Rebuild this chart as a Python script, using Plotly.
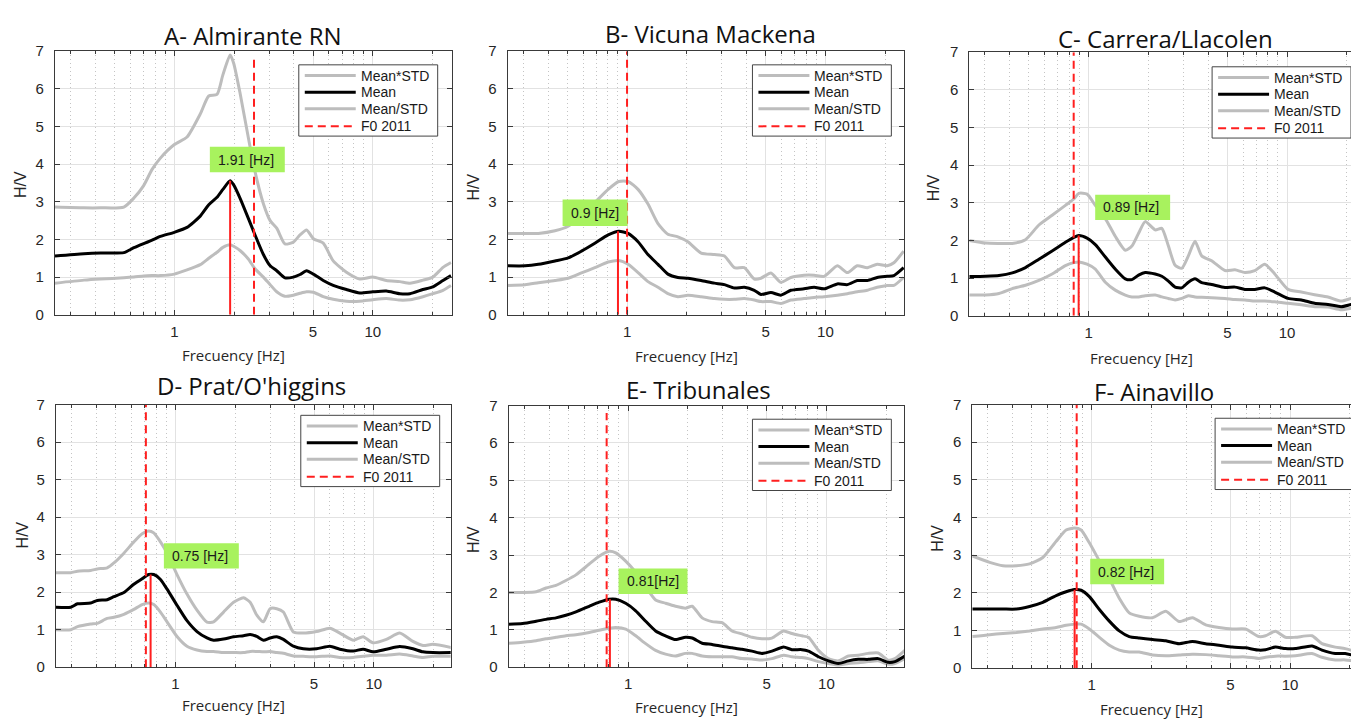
import math
import plotly.graph_objects as go

W, H = 1359, 725
PAGE_MARGIN = 8  # default <body> margin of the html page
FIG_W, FIG_H = W - PAGE_MARGIN, H - PAGE_MARGIN

# ---------------- data ----------------
titles = ["A- Almirante RN", "B- Vicuna Mackena", "C- Carrera/Llacolen",
          "D- Prat/O'higgins", "E- Tribunales", "F- Ainavillo"]
f0_measured = [1.91, 0.9, 0.89, 0.75, 0.81, 0.82]
f0_labels = ["1.91 [Hz]", "0.9 [Hz]", "0.89 [Hz]", "0.75 [Hz]", "0.81[Hz]", "0.82 [Hz]"]
peak_hv = [3.56, 2.22, 2.13, 2.47, 1.82, 2.08]
f0_2011 = [2.52, 1.0, 0.84, 0.71, 0.78, 0.84]
f0_2011_top = [6.8, 7, 7, 7, 6.8, 7]
legend_names = ["Mean*STD", "Mean", "Mean/STD", "F0 2011"]
x_tickvals = [1, 5, 10]
x_ticktext = ["1", "5", "10"]
x_minorvals = [0.3, 0.4, 0.5, 0.6, 0.7, 0.8, 0.9, 2, 3, 4, 6, 7, 8, 9, 20]
y_tickvals = [0, 1, 2, 3, 4, 5, 6, 7]

freq_a = [0.25, 0.35, 0.425, 0.556, 0.625, 0.70, 0.772, 0.85, 1.0, 1.158, 1.35, 1.49, 1.64,
          1.756, 1.91, 1.99, 2.15, 2.36, 2.55, 2.81, 3.04, 3.28, 3.61, 3.98, 4.30, 4.64, 5.02,
          5.63, 6.32, 7.37, 8.6, 10.0, 11.7, 13.7, 15.4, 17.9, 20.1, 22.6, 24.8]
mean_a = [1.56, 1.62, 1.64, 1.65, 1.78, 1.89, 1.98, 2.08, 2.19, 2.32, 2.62, 2.92, 3.12,
          3.33, 3.56, 3.45, 3.08, 2.56, 2.12, 1.60, 1.30, 1.17, 0.98, 1.0, 1.07, 1.17, 1.08,
          0.91, 0.78, 0.67, 0.58, 0.61, 0.63, 0.56, 0.56, 0.67, 0.74, 0.91, 1.04]
upper_a = [2.86, 2.84, 2.84, 2.86, 3.10, 3.43, 3.86, 4.16, 4.52, 4.72, 5.33, 5.81, 5.85,
           6.37, 6.90, 6.68, 5.85, 4.70, 3.80, 2.95, 2.50, 2.30, 1.88, 1.93, 2.12, 2.25, 2.02,
           1.90, 1.43, 1.13, 0.95, 1.00, 0.91, 0.88, 0.84, 0.92, 1.00, 1.26, 1.39]
lower_a = [0.84, 0.92, 0.95, 0.98, 1.0, 1.03, 1.04, 1.04, 1.08, 1.19, 1.33, 1.50, 1.66,
           1.79, 1.86, 1.82, 1.70, 1.48, 1.22, 1.0, 0.80, 0.61, 0.49, 0.52, 0.57, 0.61, 0.60,
           0.48, 0.41, 0.36, 0.36, 0.40, 0.43, 0.39, 0.40, 0.48, 0.56, 0.65, 0.78]

freq_b = [0.25, 0.306, 0.357, 0.433, 0.505, 0.589, 0.688, 0.803, 0.908, 1.012, 1.136, 1.275,
          1.432, 1.607, 1.804, 2.026, 2.363, 2.757, 3.097, 3.475, 3.902, 4.381, 4.732, 5.313,
          5.965, 6.697, 7.812, 8.77, 9.85, 11.49, 12.9, 14.48, 16.26, 18.25, 20.49, 22.14, 24.8]
mean_b = [1.30, 1.30, 1.34, 1.43, 1.51, 1.69, 1.90, 2.12, 2.22, 2.16, 1.94, 1.60,
          1.34, 1.08, 0.99, 0.97, 0.91, 0.84, 0.80, 0.71, 0.73, 0.65, 0.54, 0.59,
          0.52, 0.65, 0.69, 0.73, 0.69, 0.82, 0.80, 0.91, 0.91, 0.99, 1.02, 1.04, 1.25]
upper_b = [2.16, 2.16, 2.16, 2.23, 2.35, 2.64, 2.98, 3.33, 3.54, 3.54, 3.33, 2.94,
           2.42, 2.14, 2.07, 1.94, 1.64, 1.60, 1.56, 1.25, 1.25, 0.95, 0.97, 1.11,
           0.86, 0.99, 1.05, 1.05, 1.02, 1.30, 1.12, 1.30, 1.25, 1.34, 1.30, 1.38, 1.69]
lower_b = [0.78, 0.80, 0.85, 0.91, 0.97, 1.11, 1.25, 1.40, 1.44, 1.34, 1.12, 0.88,
           0.73, 0.56, 0.48, 0.52, 0.48, 0.43, 0.41, 0.41, 0.43, 0.39, 0.35, 0.35,
           0.30, 0.39, 0.43, 0.46, 0.48, 0.52, 0.56, 0.61, 0.65, 0.73, 0.78, 0.78, 0.99]

freq_c = [0.25, 0.302, 0.353, 0.412, 0.48, 0.561, 0.654, 0.763, 0.841, 0.891, 0.981, 1.08,
          1.213, 1.361, 1.529, 1.651, 1.784, 1.927, 2.163, 2.336, 2.523, 2.726, 2.944, 3.18,
          3.436, 3.711, 4.167, 4.863, 5.458, 6.128, 6.88, 7.72, 8.67, 10.12, 11.8, 13.77,
          16.07, 18.75, 21.05, 22.9]
mean_c = [1.04, 1.05, 1.07, 1.14, 1.28, 1.50, 1.72, 1.95, 2.08, 2.13, 2.06, 1.89,
          1.56, 1.24, 0.98, 0.96, 1.08, 1.15, 1.11, 1.05, 0.92, 0.76, 0.74, 0.89,
          0.98, 0.88, 0.83, 0.75, 0.76, 0.70, 0.70, 0.74, 0.63, 0.46, 0.42, 0.33,
          0.30, 0.24, 0.30, 0.33]
upper_c = [2.00, 1.93, 1.92, 1.92, 2.02, 2.41, 2.67, 2.93, 3.10, 3.25, 3.23, 2.93,
           2.58, 2.11, 1.74, 1.85, 2.19, 2.50, 2.28, 2.32, 1.85, 1.34, 1.26, 1.59,
           1.98, 1.59, 1.46, 1.20, 1.22, 1.15, 1.20, 1.37, 1.11, 0.70, 0.63, 0.56,
           0.50, 0.39, 0.46, 0.50]
lower_c = [0.55, 0.55, 0.59, 0.72, 0.81, 0.94, 1.11, 1.33, 1.41, 1.43, 1.37, 1.24,
           0.89, 0.68, 0.55, 0.50, 0.50, 0.53, 0.55, 0.50, 0.46, 0.42, 0.46, 0.53,
           0.50, 0.49, 0.48, 0.46, 0.43, 0.42, 0.39, 0.39, 0.37, 0.33, 0.29, 0.24,
           0.23, 0.16, 0.20, 0.24]

freq_d = [0.25, 0.297, 0.321, 0.374, 0.404, 0.453, 0.49, 0.55, 0.617, 0.68, 0.734, 0.778,
          0.841, 0.908, 1.019, 1.144, 1.285, 1.443, 1.558, 1.749, 1.964, 2.205, 2.382, 2.573,
          2.779, 3.002, 3.243, 3.503, 3.932, 4.415, 5.152, 6.011, 6.748, 7.873, 8.84, 9.92,
          11.58, 13.51, 15.76, 17.7, 19.87, 24.8]
mean_d = [1.60, 1.60, 1.69, 1.71, 1.78, 1.80, 1.88, 1.99, 2.21, 2.36, 2.47, 2.47,
          2.34, 2.08, 1.65, 1.24, 0.95, 0.78, 0.72, 0.75, 0.81, 0.84, 0.87, 0.82,
          0.72, 0.78, 0.81, 0.74, 0.56, 0.49, 0.49, 0.56, 0.48, 0.43, 0.48, 0.41,
          0.48, 0.55, 0.49, 0.41, 0.39, 0.39]
upper_d = [2.52, 2.52, 2.56, 2.58, 2.62, 2.65, 2.78, 3.04, 3.34, 3.56, 3.63, 3.58,
           3.34, 3.04, 2.47, 1.95, 1.52, 1.20, 1.21, 1.47, 1.73, 1.85, 1.73, 1.39,
           1.21, 1.56, 1.56, 1.47, 0.94, 0.91, 0.95, 1.04, 0.91, 0.72, 0.81, 0.65,
           0.74, 0.91, 0.69, 0.58, 0.61, 0.52]
lower_d = [1.00, 1.00, 1.08, 1.15, 1.17, 1.30, 1.33, 1.41, 1.54, 1.67, 1.71, 1.67,
           1.47, 1.21, 0.82, 0.56, 0.46, 0.42, 0.42, 0.39, 0.39, 0.39, 0.42, 0.42,
           0.41, 0.42, 0.39, 0.37, 0.30, 0.29, 0.28, 0.30, 0.26, 0.26, 0.29, 0.32,
           0.32, 0.35, 0.30, 0.26, 0.29, 0.29]

freq_e = [0.25, 0.294, 0.344, 0.386, 0.433, 0.486, 0.546, 0.637, 0.715, 0.803, 0.867, 0.973,
          1.093, 1.227, 1.377, 1.546, 1.736, 1.949, 2.105, 2.363, 2.653, 2.979, 3.344, 3.754,
          4.215, 4.732, 5.313, 6.08, 6.697, 7.52, 8.12, 9.12, 10.23, 11.49, 12.9, 14.48,
          16.26, 18.25, 20.49, 22.14, 24.85]
mean_e = [1.15, 1.17, 1.23, 1.28, 1.32, 1.39, 1.48, 1.63, 1.74, 1.82, 1.82, 1.71,
          1.51, 1.23, 0.97, 0.84, 0.74, 0.80, 0.78, 0.64, 0.61, 0.56, 0.52, 0.48,
          0.43, 0.37, 0.43, 0.54, 0.47, 0.47, 0.43, 0.28, 0.17, 0.10, 0.17, 0.21,
          0.21, 0.23, 0.13, 0.15, 0.30]
upper_e = [2.00, 2.00, 2.02, 2.12, 2.19, 2.32, 2.47, 2.76, 2.97, 3.10, 3.06, 2.84,
           2.54, 2.15, 1.80, 1.71, 1.63, 1.58, 1.63, 1.32, 1.22, 1.19, 0.97, 0.89,
           0.80, 0.76, 0.78, 0.97, 0.90, 0.84, 0.80, 0.45, 0.23, 0.17, 0.30, 0.32,
           0.37, 0.38, 0.19, 0.23, 0.45]
lower_e = [0.64, 0.67, 0.71, 0.76, 0.80, 0.84, 0.87, 0.93, 0.99, 1.04, 1.06, 1.02,
           0.84, 0.63, 0.45, 0.35, 0.30, 0.37, 0.37, 0.30, 0.28, 0.28, 0.28, 0.23,
           0.22, 0.19, 0.23, 0.32, 0.28, 0.26, 0.23, 0.15, 0.10, 0.06, 0.10, 0.12,
           0.15, 0.17, 0.08, 0.10, 0.23]

freq_f = [0.25, 0.306, 0.357, 0.417, 0.486, 0.567, 0.662, 0.743, 0.818, 0.884, 0.973, 1.093,
          1.227, 1.377, 1.546, 1.736, 2.026, 2.363, 2.757, 3.218, 3.754, 4.381, 5.112, 5.965,
          6.96, 7.52, 8.44, 9.47, 10.64, 12.9, 14.48, 16.9, 18.97, 22.3]
mean_f = [1.57, 1.57, 1.57, 1.57, 1.64, 1.75, 1.93, 2.03, 2.09, 2.07, 1.90, 1.56,
          1.25, 0.99, 0.84, 0.80, 0.76, 0.73, 0.65, 0.71, 0.65, 0.61, 0.56, 0.54,
          0.48, 0.49, 0.56, 0.52, 0.52, 0.59, 0.48, 0.39, 0.39, 0.30]
upper_f = [2.98, 2.81, 2.72, 2.72, 2.77, 2.94, 3.37, 3.67, 3.72, 3.67, 3.33, 2.85,
           2.38, 1.86, 1.47, 1.38, 1.34, 1.51, 1.24, 1.34, 1.15, 1.08, 1.04, 1.04,
           0.84, 0.86, 0.98, 0.82, 0.82, 0.86, 0.65, 0.56, 0.52, 0.41]
lower_f = [0.84, 0.89, 0.92, 0.95, 0.99, 1.04, 1.08, 1.14, 1.17, 1.17, 1.04, 0.82,
           0.61, 0.48, 0.43, 0.43, 0.35, 0.33, 0.35, 0.37, 0.36, 0.33, 0.30, 0.30,
           0.26, 0.29, 0.32, 0.32, 0.33, 0.39, 0.29, 0.22, 0.22, 0.17]

freqs = [freq_a, freq_b, freq_c, freq_d, freq_e, freq_f]
means = [mean_a, mean_b, mean_c, mean_d, mean_e, mean_f]
uppers = [upper_a, upper_b, upper_c, upper_d, upper_e, upper_f]
lowers = [lower_a, lower_b, lower_c, lower_d, lower_e, lower_f]

# ---------------- layout geometry (screen pixels) ----------------
panel_px = [(55, 452, 43, 313), (508, 905, 43, 313), (970, 1359, 44, 314),
            (56, 451, 405, 674), (509, 905, 406, 674), (973, 1359, 405, 675)]
PX_PER_DECADE = 198.5
X_MIN = 0.25
title_px = [(253, 27), (711, 25), (1166, 30), (252, 385), (699, 390), (1155, 392)]
ylabel_px = [(21, 179), (474, 182), (935, 183), (22, 538), (474, 543), (938, 542)]
xlabel_px = [(234, 354), (687, 355), (1142, 357), (234, 713), (687, 715), (1152, 717)]
legend_px = [(299, 57), (753, 57), (1213, 59), (301, 416), (753, 420), (1216, 419)]
label_box_px = [(210, 141, 285, 167), (563, 195, 628, 222), (1096, 190, 1171, 216),
                (164, 547, 239, 573), (619, 573, 688, 599), (1091, 563, 1165, 589)]

GRAY = "#bdbdbd"
RED = "#ff1f1f"
GREEN = "#a8f25e"
AXC = "#3a3a3a"
TICKFONT = dict(family="Liberation Sans, Arial", size=15, color="#262626")


def px(x):
    return (x - PAGE_MARGIN) / FIG_W


def py(y):
    return 1 - (y - PAGE_MARGIN) / FIG_H


fig = go.Figure()
shapes = []
annotations = []
layout_axes = {}

for i in range(6):
    xs = "" if i == 0 else str(i + 1)
    xref, yref = "x" + xs, "y" + xs
    l, r, t, b = panel_px[i]
    lo = math.log10(X_MIN)
    hi = lo + (r - l) / PX_PER_DECADE

    layout_axes["xaxis" + xs] = dict(
        type="log", range=[lo, hi], domain=[px(l), min(1.0, px(r))], anchor=yref,
        tickvals=x_tickvals, ticktext=x_ticktext, ticks="inside", ticklen=5,
        tickcolor=AXC, showline=True, linecolor=AXC, linewidth=1, mirror="ticks",
        showgrid=True, gridcolor="#e2e2e2", gridwidth=1, zeroline=False,
        tickfont=TICKFONT, ticklabelstandoff=3,
        minor=dict(tickvals=x_minorvals, ticks="inside", ticklen=3, tickcolor=AXC,
                   showgrid=True, gridcolor="#c4c4c4", griddash="1px,3px", gridwidth=1),
    )
    layout_axes["yaxis" + xs] = dict(
        range=[0, 7], domain=[py(b), py(t)], anchor=xref,
        tickvals=y_tickvals, ticks="inside", ticklen=5, tickcolor=AXC,
        showline=True, linecolor=AXC, linewidth=1, mirror="ticks",
        showgrid=True, gridcolor="#e2e2e2", gridwidth=1, zeroline=False,
        tickfont=TICKFONT, ticklabelstandoff=7,
    )

    common = dict(xaxis=xref, yaxis=yref, mode="lines", showlegend=False, hoverinfo="skip")
    fig.add_trace(go.Scatter(x=freqs[i], y=uppers[i], name=legend_names[0],
                             line=dict(color=GRAY, width=3, shape="spline", smoothing=0.6), **common))
    fig.add_trace(go.Scatter(x=freqs[i], y=lowers[i], name=legend_names[2],
                             line=dict(color=GRAY, width=3, shape="spline", smoothing=0.6), **common))
    fig.add_trace(go.Scatter(x=freqs[i], y=means[i], name=legend_names[1],
                             line=dict(color="black", width=3, shape="spline", smoothing=0.6), **common))
    fig.add_trace(go.Scatter(x=[f0_measured[i], f0_measured[i]], y=[0, peak_hv[i]],
                             name="F0", line=dict(color=RED, width=2), **common))
    fig.add_trace(go.Scatter(x=[f0_2011[i], f0_2011[i]], y=[0, f0_2011_top[i]],
                             name=legend_names[3],
                             line=dict(color=RED, width=2, dash="8px,5px"), **common))

    tx, ty = title_px[i]
    annotations.append(dict(text=titles[i], x=px(tx), y=py(ty), xref="paper", yref="paper",
                            showarrow=False, xanchor="center", yanchor="middle",
                            font=dict(family="Open Sans", size=24, color="#111111")))
    yx, yy = ylabel_px[i]
    annotations.append(dict(text="H/V", x=px(yx), y=py(yy), xref="paper", yref="paper",
                            showarrow=False, textangle=-90, xanchor="center", yanchor="middle",
                            font=dict(family="Liberation Sans, Arial", size=16, color="#262626")))
    lx, ly = xlabel_px[i]
    annotations.append(dict(text="Frecuency [Hz]", x=px(lx), y=py(ly), xref="paper", yref="paper",
                            showarrow=False, xanchor="center", yanchor="middle",
                            font=dict(family="Open Sans", size=15, color="#262626")))

    bl, bt, br, bb = label_box_px[i]
    shapes.append(dict(type="rect", xref="paper", yref="paper", x0=px(bl), x1=px(br),
                       y0=py(bb), y1=py(bt), fillcolor=GREEN, line=dict(width=0), layer="above"))
    annotations.append(dict(text=f0_labels[i], x=px(bl + 6), y=py((bt + bb) / 2),
                            xref="paper", yref="paper", showarrow=False,
                            xanchor="left", yanchor="middle",
                            font=dict(family="Liberation Sans, Arial", size=14, color="#1a1a1a")))

    gl, gt = legend_px[i]
    shapes.append(dict(type="rect", xref="paper", yref="paper", x0=px(gl), x1=px(gl + 139),
                       y0=py(gt + 73), y1=py(gt), fillcolor="white",
                       line=dict(color="#444444", width=1), layer="above"))
    styles = [dict(color=GRAY, width=3), dict(color="black", width=3),
              dict(color=GRAY, width=3), dict(color=RED, width=2, dash="8px,5px")]
    for k, dy in enumerate([11, 28, 45, 63]):
        shapes.append(dict(type="line", xref="paper", yref="paper",
                           x0=px(gl + 6), x1=px(gl + 57), y0=py(gt + dy), y1=py(gt + dy),
                           line=styles[k], layer="above"))
        annotations.append(dict(text=legend_names[k], x=px(gl + 60), y=py(gt + dy),
                                xref="paper", yref="paper", showarrow=False,
                                xanchor="left", yanchor="middle",
                                font=dict(family="Liberation Sans, Arial", size=14, color="#1a1a1a")))

fig.update_layout(
    width=FIG_W, height=FIG_H, margin=dict(l=0, r=0, t=0, b=0),
    paper_bgcolor="white", plot_bgcolor="white",
    showlegend=False, shapes=shapes, annotations=annotations,
    **layout_axes,
)

fig.write_html("out.html")
